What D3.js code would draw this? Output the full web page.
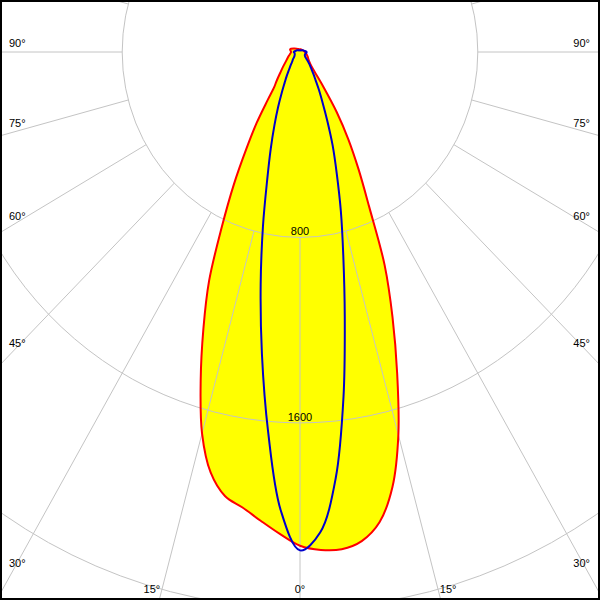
<!DOCTYPE html>
<html><head><meta charset="utf-8">
<script src="https://cdn.jsdelivr.net/npm/d3@7"></script>
<style>html,body{margin:0;padding:0;background:#fff}</style>
</head><body>
<svg id="chart" width="600" height="600"></svg>
<script>
// Gamma angles (degrees from nadir)
const gammas = [0,2.5,5,7.5,10,12.5,15,17.5,20,22.5,25,27.5,30,32.5,35,37.5,40,45,50,60,70,80,90,105,120,135,150,165,180];
// Red plane (right side / left side), cd
const redRight = [2130,2150,2153,2128,2060,1922,1710,1454,1217,995,736,571,435,307,183,110,80,60,50,40,32,26,22,18,15,13,12,12,12];
const redLeft  = [2130,2081,2030,1982,1945,1858,1703,1486,1271,1069,832,645,483,363,255,190,165,125,100,70,55,45,40,46,30,20,15,12,12];
// Blue plane (right side / left side), cd
const blueRight = [2150,2075,1845,1500,1160,900,710,550,430,320,240,185,140,112,90,75,60,40,30,25,25,28,30,20,15,10,8,8,8];
const blueLeft  = [2150,1980,1645,1313,1019,770,570,438,336,258,195,150,120,95,78,65,55,45,35,28,25,25,28,20,15,10,8,8,8];
// Grid rings and labels
const rings = [800, 1600, 2400];
const ringLabels = ["800", "1600"];
const sideAngles = [90, 75, 60, 45, 30];
const sideLabels = ["90°", "75°", "60°", "45°", "30°"];
const bottomAngles = [-15, 0, 15];
const bottomLabels = ["15°", "0°", "15°"];

const W = 600, H = 600, cx = 300, cy = 52, yStretch = 1.043;
const svg = d3.select("#chart");
const r = d3.scaleLinear().domain([0, 800]).range([0, 177.8]);
const deg = d3.scaleLinear().domain([0, 180]).range([0, Math.PI]);

svg.append("rect").attr("width", W).attr("height", H).attr("fill", "#fff");

const g = svg.append("g").attr("transform", `translate(${cx},${cy}) scale(1,${yStretch})`);

function buildPoints(right, left) {
  const pts = gammas.map((a, i) => [Math.PI - deg(a), r(right[i])]);
  const lp = [];
  for (let i = gammas.length - 2; i >= 1; i--) lp.push([Math.PI + deg(gammas[i]), r(left[i])]);
  return pts.concat(lp);
}
const radial = d3.lineRadial().angle(d => d[0]).radius(d => d[1]).curve(d3.curveCatmullRomClosed.alpha(0.5));

const redPts = buildPoints(redRight, redLeft);
const bluePts = buildPoints(blueRight, blueLeft);

// yellow fill
g.append("path").attr("d", radial(redPts)).attr("fill", "#ffff00").attr("stroke", "none");

// grid rings
g.selectAll("circle.ring").data(rings).join("circle")
  .attr("cx", 0).attr("cy", 0).attr("r", d => r(d))
  .attr("fill", "none").attr("stroke", "#c4c4c4").attr("stroke-width", 1)
  .attr("vector-effect", "non-scaling-stroke");

// radial lines every 15°
const spokes = d3.range(0, 360, 15);
g.selectAll("line.spoke").data(spokes).join("line")
  .attr("x1", d => r(800) * Math.sin(deg(d))).attr("y1", d => r(800) * Math.cos(deg(d)))
  .attr("x2", d => r(4000) * Math.sin(deg(d))).attr("y2", d => r(4000) * Math.cos(deg(d)))
  .attr("stroke", "#c4c4c4").attr("stroke-width", 1)
  .attr("vector-effect", "non-scaling-stroke");

// curves
g.append("path").attr("d", radial(redPts)).attr("fill", "none").attr("stroke", "#ff0000")
  .attr("stroke-width", 2).attr("stroke-linejoin", "round").attr("vector-effect", "non-scaling-stroke");
g.append("path").attr("d", radial(bluePts)).attr("fill", "none").attr("stroke", "#0000cc")
  .attr("stroke-width", 2).attr("stroke-linejoin", "round").attr("vector-effect", "non-scaling-stroke");

const font = "'Liberation Sans', Arial, sans-serif";
// ring labels
svg.selectAll("text.ring").data(ringLabels).join("text")
  .attr("x", cx).attr("y", (d, i) => cy + r(rings[i]) * yStretch - 2)
  .attr("text-anchor", "middle").attr("font-family", font).attr("font-size", 11).attr("fill", "#000")
  .text(d => d);

// side labels
sideAngles.forEach((a, i) => {
  const y = cy + 300 / Math.tan(deg(a)) - 5;
  svg.append("text").attr("x", 9).attr("y", y).attr("font-family", font).attr("font-size", 11).text(sideLabels[i]);
  svg.append("text").attr("x", 590).attr("y", y).attr("text-anchor", "end").attr("font-family", font).attr("font-size", 11).text(sideLabels[i]);
});
// bottom labels
bottomAngles.forEach((a, i) => {
  const x = cx + 548 / yStretch * Math.tan(deg(a));
  const anchor = a < 0 ? "end" : (a > 0 ? "start" : "middle");
  svg.append("text").attr("x", a < 0 ? x + 1 : (a > 0 ? x - 1 : x)).attr("y", 593)
    .attr("text-anchor", anchor).attr("font-family", font).attr("font-size", 11).text(bottomLabels[i]);
});

// border
svg.append("rect").attr("x", 1).attr("y", 1).attr("width", W - 2).attr("height", H - 2)
  .attr("fill", "none").attr("stroke", "#000").attr("stroke-width", 2);
</script>
</body></html>
